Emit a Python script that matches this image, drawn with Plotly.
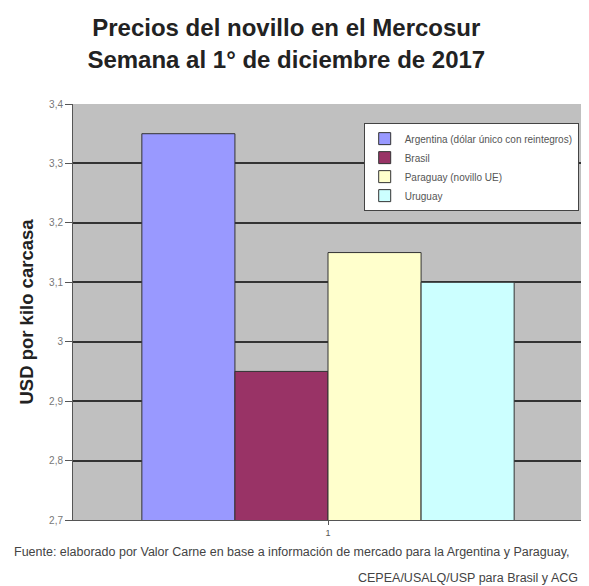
import plotly.graph_objects as go

categories = ["1"]
series_names = ["Argentina (dólar único con reintegros)", "Brasil", "Paraguay (novillo UE)", "Uruguay"]
series_values = [[3.35], [2.95], [3.15], [3.10]]
colors = ["#9999ff", "#993366", "#ffffcc", "#ccffff"]
y_ticks = [2.7, 2.8, 2.9, 3.0, 3.1, 3.2, 3.3, 3.4]
y_tick_labels = ["2,7", "2,8", "2,9", "3", "3,1", "3,2", "3,3", "3,4"]

fig = go.Figure()
for name, vals, c in zip(series_names, series_values, colors):
    fig.add_trace(go.Bar(x=categories, y=vals, name=name, marker=dict(color=c, line=dict(color="#333333", width=1))))

fig.update_layout(
    width=581, height=578,
    paper_bgcolor="white", plot_bgcolor="#c0c0c0",
    margin=dict(l=65, r=6, t=96, b=66, autoexpand=False),
    barmode="group", bargap=0.27, bargroupgap=0,
    font=dict(family="Liberation Sans, Arial, sans-serif", color="#555555"),
    title=dict(text="<b>Precios del novillo en el Mercosur<br>Semana al 1° de diciembre de 2017</b>",
               x=0.479, xanchor="center", y=0.951, yanchor="top",
               font=dict(size=24, color="#222222")),
    showlegend=True,
    legend=dict(x=0.57, xanchor="left", y=0.954, yanchor="top", bgcolor="white",
                bordercolor="#444444", borderwidth=1, font=dict(size=10, color="#555555"),
                tracegroupgap=0, itemwidth=30),
    xaxis=dict(showline=True, linecolor="#555555", ticks="outside", ticklen=4, tickcolor="#555555",
               tickfont=dict(size=9, color="#555555"), showgrid=False, automargin=False),
    yaxis=dict(range=[2.7, 3.4], tickvals=y_ticks, ticktext=y_tick_labels, showline=True,
               linecolor="#555555", ticks="outside", ticklen=7, tickcolor="#555555",
               tickfont=dict(size=10, color="#777777"), showgrid=True, gridcolor="#333333", gridwidth=1.5,
               zeroline=False, automargin=False,
               title=dict(text="<b>USD por kilo carcasa</b>", font=dict(size=18.5, color="#222222"), standoff=10)),
)

fig.add_annotation(text="Fuente: elaborado por Valor Carne en base a información de mercado para la Argentina y Paraguay,",
                   xref="paper", yref="paper", x=-0.1196, y=-0.076, xanchor="left", yanchor="middle",
                   showarrow=False, font=dict(size=12.5, color="#444444"))
fig.add_annotation(text="CEPEA/USALQ/USP para Brasil y ACG",
                   xref="paper", yref="paper", x=0.994, y=-0.139, xanchor="right", yanchor="middle",
                   showarrow=False, font=dict(size=12.5, color="#444444"))

fig.write_html("out.html")
